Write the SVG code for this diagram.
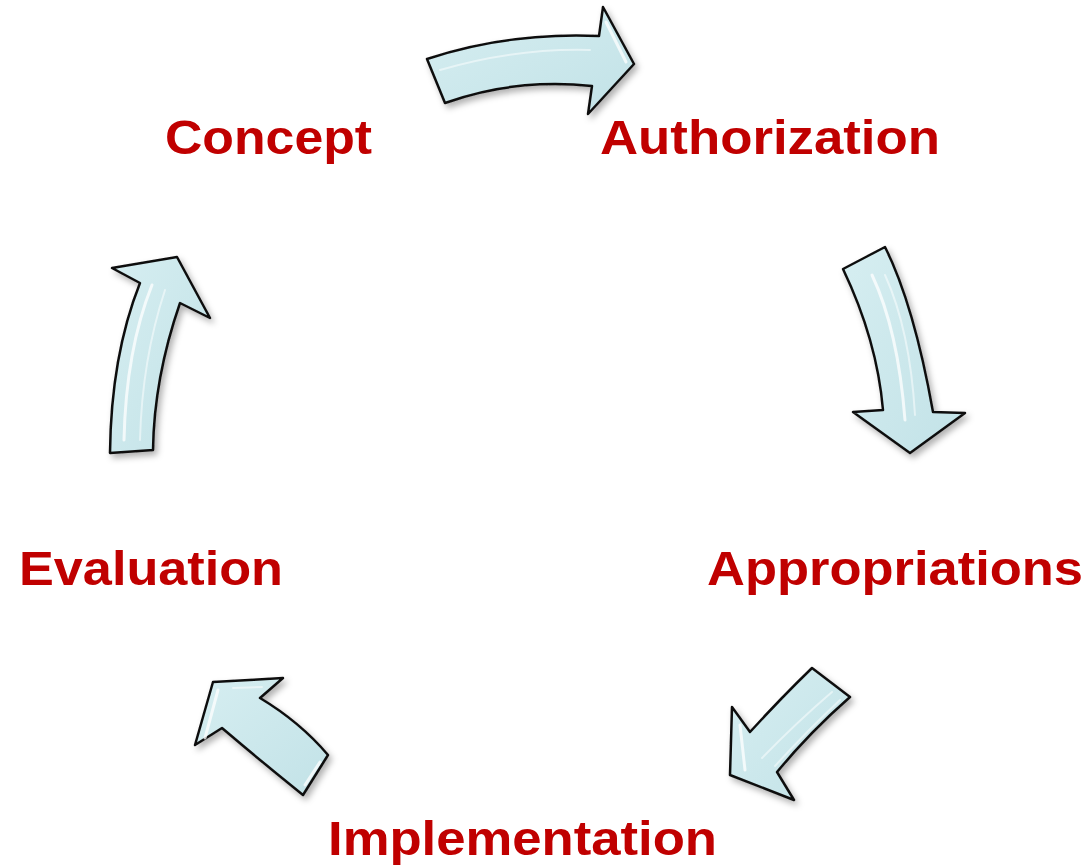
<svg xmlns="http://www.w3.org/2000/svg" width="1090" height="868" viewBox="0 0 1090 868">
  <defs>
    <linearGradient id="fillg" x1="0" y1="0" x2="1" y2="1">
      <stop offset="0" stop-color="#d6eef1"/>
      <stop offset="1" stop-color="#c2e2e7"/>
    </linearGradient>
    <filter id="shadow" x="-20%" y="-20%" width="150%" height="150%">
      <feDropShadow dx="3" dy="4" stdDeviation="3" flood-color="#000" flood-opacity="0.3"/>
    </filter>
  </defs>
  <style>
    .lbl { font-family: "Liberation Sans", Arial, sans-serif; font-weight: bold; font-size: 48px; fill: #c00000; }
    .arrow { fill: url(#fillg); stroke: #111; stroke-width: 2.5; stroke-linejoin: round; filter: url(#shadow); }
    .hl { fill: none; stroke: #ffffff; stroke-width: 3; stroke-linecap: round; opacity: 0.75; }
    .hl2 { fill: none; stroke: #ffffff; stroke-width: 2; stroke-linecap: round; opacity: 0.5; }
  </style>

  <rect width="1090" height="868" fill="#ffffff"/>

  <g id="connectors">
    <g id="arrow-concept-authorization">
      <path class="arrow" d="M427,59 Q510,32 599,36 L603,7 L634,64 L588,114 L592,86 Q515,78 445,103 Z"/>
      <path class="hl2" d="M440,70 Q515,48 590,50"/>
      <path class="hl" d="M606,22 L626,62"/>
    </g>
    <g id="arrow-authorization-appropriations">
      <path class="arrow" d="M843,269 L885,247 Q914,305 933,412 L965,413 L910,453 L853,412 L883,410 Q877,340 843,269 Z"/>
      <path class="hl" d="M872,275 Q898,330 905,420"/>
      <path class="hl2" d="M885,275 Q910,330 915,415"/>
    </g>
    <g id="arrow-appropriations-implementation">
      <path class="arrow" d="M812,668 L850,697 Q810,732 777,772 L794,800 L730,775 L732,707 L750,732 Q782,697 812,668 Z"/>
      <path class="hl" d="M740,725 L745,770"/>
      <path class="hl2" d="M762,758 Q797,722 832,692"/>
      <path class="hl2" d="M775,766 Q808,730 840,700"/>
    </g>
    <g id="arrow-implementation-evaluation">
      <path class="arrow" d="M328,755 L303,795 Q262,762 222,728 L195,745 L213,682 L283,678 L260,698 Q300,722 328,755 Z"/>
      <path class="hl" d="M218,690 L205,738"/>
      <path class="hl2" d="M233,688 L262,687"/>
      <path class="hl" d="M305,785 L320,762"/>
    </g>
    <g id="arrow-evaluation-concept">
      <path class="arrow" d="M110,453 Q111,356 140,283 L112,268 L177,257 L210,318 L180,303 Q154,378 153,450 Z"/>
      <path class="hl" d="M124,440 Q126,350 152,285"/>
      <path class="hl2" d="M140,440 Q142,360 165,290"/>
    </g>
  </g>

  <g id="node-concept"><text class="lbl" x="165" y="154" textLength="207" lengthAdjust="spacingAndGlyphs">Concept</text></g>
  <g id="node-authorization"><text class="lbl" x="600" y="154" textLength="340" lengthAdjust="spacingAndGlyphs">Authorization</text></g>
  <g id="node-appropriations"><text class="lbl" x="707" y="585" textLength="376" lengthAdjust="spacingAndGlyphs">Appropriations</text></g>
  <g id="node-implementation"><text class="lbl" x="328" y="855" textLength="389" lengthAdjust="spacingAndGlyphs">Implementation</text></g>
  <g id="node-evaluation"><text class="lbl" x="19" y="585" textLength="264" lengthAdjust="spacingAndGlyphs">Evaluation</text></g>
</svg>
